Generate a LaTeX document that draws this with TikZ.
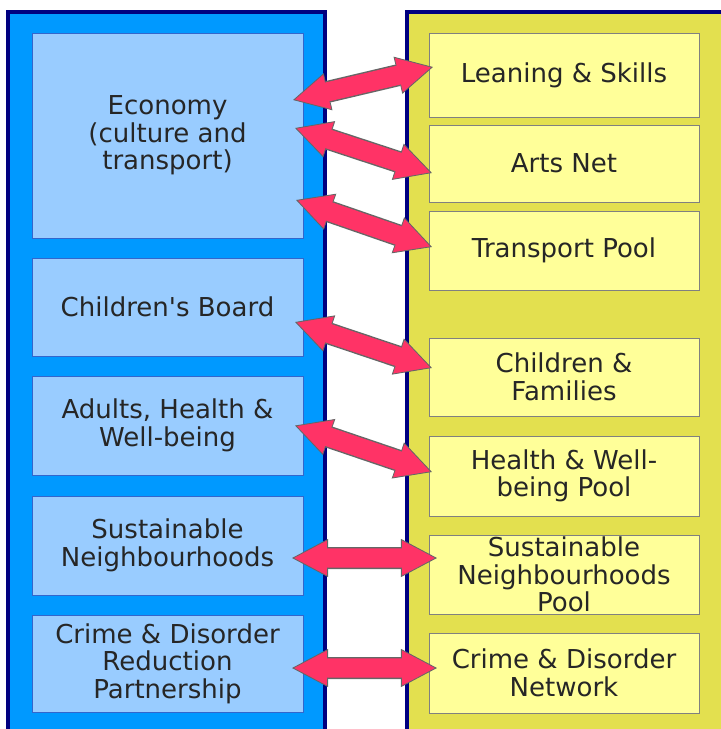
\documentclass[tikz,border=0pt]{standalone}
\usepackage{fontspec}
\setmainfont{DejaVu Sans}
\usetikzlibrary{arrows.meta}

\definecolor{panelblue}{HTML}{0099FF}
\definecolor{boxblue}{HTML}{99CCFF}
\definecolor{boxblueline}{HTML}{3366CC}
\definecolor{panelyellow}{HTML}{E3E04F}
\definecolor{boxyellow}{HTML}{FFFF99}
\definecolor{navy}{HTML}{000080}
\definecolor{linkred}{HTML}{FF3366}

\tikzset{
  fat/.tip={Triangle[width=0.95cm,length=0.9cm,fill=linkred,line width=0.6pt]},
  board/.style={draw=boxblueline, fill=boxblue, line width=0.6pt, minimum width=6.775cm,
    inner sep=0pt, outer sep=0pt, align=center, text=black!85,
    font=\fontsize{18.5}{19.5}\selectfont},
  pool/.style={board, draw=black!50, fill=boxyellow, minimum width=6.75cm},
  link/.style={draw=black!60, line width=0.55cm, fat-fat},
  linkfill/.style={draw=linkred, line width=0.48cm, shorten <=0.83cm, shorten >=0.83cm},
}

\begin{document}
\begin{tikzpicture}[x=0.025cm, y=-0.025cm]
  \useasboundingbox (0,0) rectangle (721,729);

  % Panels
  \fill[panelblue] (8,12) rectangle (325,729);
  \draw[navy, line width=2.2pt] (8,729) -- (8,12) -- (325,12) -- (325,729);
  \fill[panelyellow] (407,12) rectangle (721,729);
  \draw[navy, line width=2.2pt] (407,729) -- (407,12) -- (721,12);

  % Boards
  \node[board, minimum height=5.125cm] (eco) at (167.5,135.5) {Economy\\(culture and\\transport)};
  \node[board, minimum height=2.45cm] (chb) at (167.5,307) {Children\textquotesingle s Board};
  \node[board, minimum height=2.475cm] (ahw) at (167.5,425.5) {Adults, Health \&\\Well-being};
  \node[board, minimum height=2.475cm] (sn) at (167.5,545.5) {Sustainable\\Neighbourhoods};
  \node[board, minimum height=2.425cm] (cdr) at (167.5,663.5) {Crime \& Disorder\\Reduction\\Partnership};

  % Pools
  \node[pool, minimum height=2.1cm] (lsk) at (564,75) {Leaning \& Skills};
  \node[pool, minimum height=1.925cm] (art) at (564,163.5) {Arts Net};
  \node[pool, minimum height=1.975cm] (tpp) at (564,250.5) {Transport Pool};
  \node[pool, minimum height=1.95cm] (chf) at (564,377) {Children \&\\Families};
  \node[pool, minimum height=2cm] (hwp) at (564,476) {Health \& Well-\\being Pool};
  \node[pool, minimum height=1.975cm] (snp) at (564,574.5) {Sustainable\\Neighbourhoods\\Pool};
  \node[pool, minimum height=2cm] (cdn) at (564,673) {Crime \& Disorder\\Network};

  % Links
  \foreach \l/\lx/\ly/\r/\rx/\ry in {eco/-10/-35.5/lsk/4/-8, eco/-8/-7.5/art/3/9.5,
      eco/-7/64.5/tpp/3/-3.5, chb/-8/15/chf/3/-9, ahw/-8/0/hwp/3/-4,
      sn/-11/12.5/snp/8/-16.5, cdr/-11/4.5/cdn/8/-5}{
    \draw[link] ([shift={(\lx,\ly)}]\l.east) -- ([shift={(\rx,\ry)}]\r.west);
    \draw[linkfill] ([shift={(\lx,\ly)}]\l.east) -- ([shift={(\rx,\ry)}]\r.west);
  }
\end{tikzpicture}
\end{document}
